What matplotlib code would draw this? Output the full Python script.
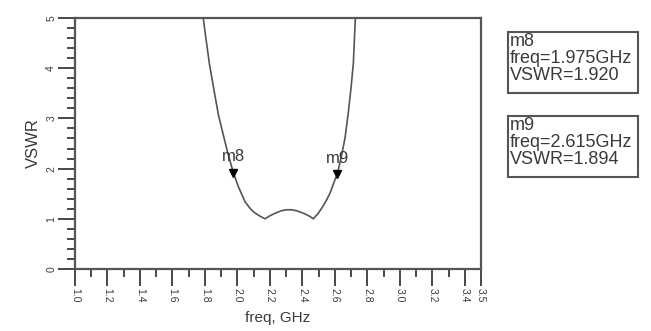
import matplotlib
matplotlib.use("Agg")
import matplotlib.pyplot as plt
from matplotlib.patches import Rectangle
from matplotlib.ticker import MultipleLocator

plt.rcParams["font.family"] = ["Liberation Sans", "DejaVu Sans"]

# VSWR curve
freq = [1.780, 1.790, 1.808, 1.828, 1.855, 1.883, 1.914, 1.944, 1.975, 2.006,
        2.047, 2.075, 2.098, 2.135, 2.170, 2.200, 2.232, 2.270, 2.303, 2.335,
        2.365, 2.400, 2.427, 2.450, 2.467, 2.495, 2.519, 2.545, 2.570, 2.601,
        2.615, 2.642, 2.663, 2.683, 2.700, 2.714, 2.726, 2.732]
vswr = [5.20, 4.99, 4.55, 4.08, 3.58, 3.07, 2.66, 2.27, 1.92, 1.64,
        1.34, 1.22, 1.14, 1.06, 1.00, 1.06, 1.11, 1.16, 1.18, 1.18,
        1.16, 1.12, 1.08, 1.04, 1.00, 1.10, 1.21, 1.35, 1.51, 1.78,
        1.894, 2.27, 2.62, 3.12, 3.62, 4.10, 4.99, 5.20]

marker_names = ["m8", "m9"]
marker_freq = [1.975, 2.615]
marker_vswr = [1.920, 1.894]

xticks = [1.0, 1.2, 1.4, 1.6, 1.8, 2.0, 2.2, 2.4, 2.6, 2.8, 3.0, 3.2, 3.4, 3.5]
yticks = [0, 1, 2, 3, 4, 5]

fig = plt.figure(figsize=(6.51, 3.31), dpi=100)
ax = fig.add_axes([0.1152, 0.1873, 0.6237, 0.7583])

ink = "#3a3a3a"
ax.plot(freq, vswr, color="#555555", linewidth=1.2)

for name, f, v in zip(marker_names, marker_freq, marker_vswr):
    ax.plot(f, v, marker="v", color="black", markersize=5.5, linestyle="none")
    ax.annotate(name, (f, v), xytext=(0, 6), textcoords="offset points",
                ha="center", va="bottom", fontsize=12, color=ink)

ax.set_xlim(1.0, 3.5)
ax.set_ylim(0, 5)
ax.set_xticks(xticks)
ax.set_xticklabels([f"{t:.1f}" for t in xticks], rotation=-90, fontsize=7.5, color=ink)
ax.set_yticks(yticks)
ax.set_yticklabels([str(t) for t in yticks], rotation=90, fontsize=7.5, color=ink, va="center")
ax.xaxis.set_minor_locator(MultipleLocator(0.1))
ax.yaxis.set_minor_locator(MultipleLocator(0.2))
ax.tick_params(which="major", length=12, width=1.3, color=ink, pad=1.5)
ax.tick_params(which="minor", length=6, width=1.3, color=ink)
for s in ax.spines.values():
    s.set_color("#555555")
    s.set_linewidth(1.6)

ax.set_xlabel("freq, GHz", fontsize=11, color=ink, labelpad=6)
ax.set_ylabel("VSWR", fontsize=12, color=ink, labelpad=4)

# marker readout boxes
boxes = [(508, 32), (508, 116)]
for (bx, by), name, f, v in zip(boxes, marker_names, marker_freq, marker_vswr):
    x0 = bx / 651
    y0 = 1 - (by + 61) / 331
    fig.patches.append(Rectangle((x0, y0), 130 / 651, 61 / 331, transform=fig.transFigure,
                                 fill=False, edgecolor="#555555", linewidth=1.5))
    fig.text((bx + 2) / 651, 1 - (by + 1) / 331,
             f"{name}\nfreq={f:.3f}GHz\nVSWR={v:.3f}",
             ha="left", va="top", fontsize=13, linespacing=1.0, color=ink)

fig.savefig("out.png", dpi=100)
